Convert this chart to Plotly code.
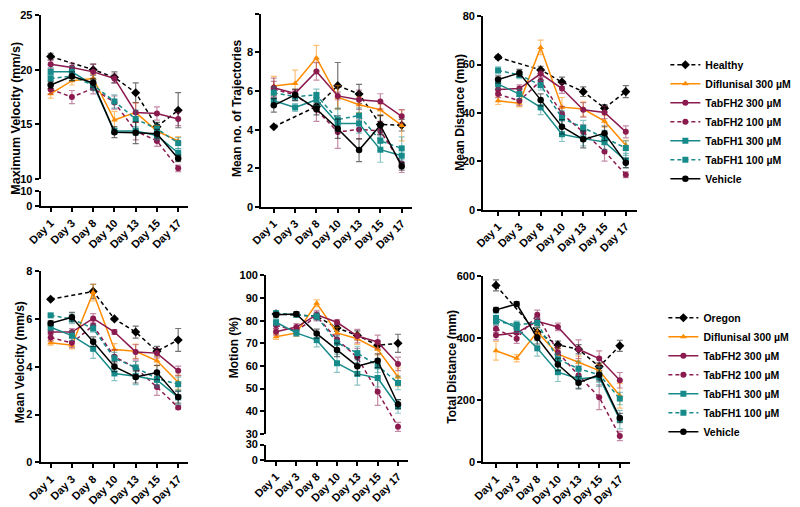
import plotly.graph_objects as go

# the page body keeps its default 8px margin: the figure is drawn 792x499 and
# every position below is given in the 800x507 reference frame, then scaled
FW, FH = 792, 499
RW, RH = 800, 507
FONT = "Liberation Sans, Arial, sans-serif"

days = ["Day 1", "Day 3", "Day 8", "Day 10", "Day 13", "Day 15", "Day 17"]
groups_top = ["Healthy", "Diflunisal 300 µM", "TabFH2 300 µM", "TabFH2 100 µM",
              "TabFH1 300 µM", "TabFH1 100 µM", "Vehicle"]
groups_bottom = ["Oregon", "Diflunisal 300 µM", "TabFH2 300 µM", "TabFH2 100 µM",
                 "TabFH1 300 µM", "TabFH1 100 µM", "Vehicle"]

# rows follow the group order above
maxvel = [
    [21.2, None, 20.0, 19.3, 17.9, 14.8, 16.3],
    [17.8, 19.0, 19.2, 15.4, 16.1, 14.4, 13.5],
    [20.5, 20.2, 19.8, 19.2, 16.1, 16.0, 15.5],
    [18.2, 17.5, 18.3, 17.0, 14.4, 13.5, 11.0],
    [19.8, 19.8, 18.6, 14.4, 14.4, 14.0, 12.4],
    [19.2, 19.4, 18.6, 17.1, 15.5, 14.6, 13.3],
    [18.6, 19.4, 18.8, 14.3, 14.25, 14.15, 11.9],
]
maxvel_err = [
    [0.3, 0, 0.5, 0.5, 0.9, 0.4, 1.6],
    [0.4, 0.4, 0.4, 0.8, 0.9, 0.5, 0.4],
    [0.4, 0.4, 0.7, 0.4, 0.9, 0.6, 0.6],
    [0.4, 0.6, 0.5, 0.6, 0.8, 0.5, 0.3],
    [0.4, 0.5, 0.5, 0.3, 0.4, 0.4, 0.4],
    [0.3, 0.4, 0.4, 0.6, 0.8, 0.4, 0.5],
    [0.3, 0.4, 0.4, 0.5, 1.0, 0.4, 0.3],
]

traj = [
    [4.15, None, 5.2, 6.28, 5.85, 4.27, 4.23],
    [6.26, 6.39, 7.72, 5.68, 5.29, 5.03, 4.22],
    [6.17, 5.88, 7.02, 5.75, 5.55, 5.46, 4.69],
    [6.1, 5.8, 5.03, 3.88, 4.01, 3.93, 2.23],
    [5.5, 5.15, 5.55, 4.32, 4.32, 2.96, 2.65],
    [5.92, 5.71, 5.8, 4.52, 4.73, 3.42, 3.03],
    [5.26, 5.8, 5.07, 4.05, 2.94, 4.23, 2.1],
]
traj_err = [
    [0.05, 0, 0.1, 1.2, 0.5, 0.5, 0.3],
    [0.5, 0.7, 0.65, 0.6, 0.4, 0.3, 0.8],
    [0.5, 0.2, 0.45, 0.2, 0.5, 0.4, 0.35],
    [0.4, 0.2, 0.6, 0.85, 0.5, 0.5, 0.45],
    [0.3, 0.2, 0.3, 0.4, 0.5, 0.65, 0.4],
    [0.3, 0.2, 0.3, 0.6, 0.4, 0.5, 0.6],
    [0.35, 0.3, 0.3, 0.5, 0.6, 0.5, 0.2],
]

dist = [
    [63.0, None, 57.8, 52.8, 48.8, 42.0, 48.8],
    [45.0, 44.0, 67.1, 42.4, 41.6, 36.6, 26.7],
    [49.7, 50.1, 56.2, 50.1, 41.3, 40.2, 32.2],
    [47.8, 45.0, 53.3, 39.7, 32.1, 24.1, 14.5],
    [51.9, 47.8, 42.3, 31.2, 29.4, 28.0, 20.3],
    [57.6, 55.7, 51.5, 37.9, 33.9, 29.8, 25.5],
    [53.8, 56.5, 45.4, 34.3, 29.1, 31.6, 19.4],
]
dist_err = [
    [0.8, 0, 1.5, 2.0, 2.0, 1.5, 2.5],
    [1.5, 1.5, 3.0, 4.0, 3.0, 2.5, 2.0],
    [1.5, 1.5, 1.5, 2.0, 3.0, 2.5, 2.5],
    [1.5, 2.0, 2.5, 3.0, 3.0, 4.0, 1.2],
    [2.0, 2.0, 3.0, 3.0, 3.0, 3.0, 3.0],
    [1.5, 1.5, 2.0, 3.0, 3.0, 3.0, 3.0],
    [1.5, 1.5, 2.5, 3.0, 3.5, 3.0, 2.0],
]

meanvel = [
    [6.82, None, 7.15, 6.0, 5.45, 4.65, 5.12],
    [5.0, 4.9, 7.1, 4.72, 4.65, 4.25, 3.35],
    [5.45, 5.45, 6.02, 5.45, 4.62, 4.57, 3.83],
    [5.22, 5.0, 5.72, 4.42, 3.95, 3.15, 2.3],
    [5.65, 5.3, 4.75, 3.72, 3.6, 3.45, 2.72],
    [6.15, 6.0, 5.6, 4.35, 3.97, 3.5, 3.27],
    [5.82, 6.07, 5.05, 4.0, 3.57, 3.76, 2.73],
]
meanvel_err = [
    [0.05, 0, 0.3, 0.05, 0.25, 0.2, 0.48],
    [0.1, 0.15, 0.35, 0.25, 0.3, 0.2, 0.3],
    [0.1, 0.15, 0.2, 0.1, 0.3, 0.2, 0.2],
    [0.15, 0.2, 0.2, 0.3, 0.3, 0.35, 0.08],
    [0.15, 0.2, 0.4, 0.3, 0.35, 0.3, 0.3],
    [0.05, 0.2, 0.15, 0.25, 0.25, 0.25, 0.3],
    [0.1, 0.2, 0.2, 0.2, 0.25, 0.3, 0.25],
]

motion = [
    [83.0, None, 82.0, 76.8, 73.5, 69.1, 70.0],
    [72.9, 74.6, 87.7, 74.6, 72.0, 67.4, 55.1],
    [75.1, 77.2, 82.6, 79.3, 73.2, 70.6, 60.9],
    [78.0, 75.5, 81.9, 71.7, 63.8, 48.6, 33.1],
    [79.3, 74.6, 71.4, 61.2, 56.5, 54.7, 42.1],
    [83.3, 82.6, 81.9, 70.3, 65.7, 60.1, 52.5],
    [82.6, 83.0, 74.3, 67.1, 59.9, 62.3, 43.1],
]
motion_err = [
    [1.0, 0, 1.0, 1.5, 2.0, 2.0, 4.0],
    [1.2, 1.5, 1.5, 2.5, 2.5, 2.5, 4.0],
    [1.5, 1.5, 2.0, 1.2, 3.0, 3.0, 3.0],
    [1.5, 1.5, 2.0, 2.0, 4.0, 6.0, 2.0],
    [1.5, 1.5, 3.0, 4.0, 5.0, 4.0, 3.0],
    [1.0, 1.0, 1.5, 3.0, 3.0, 3.0, 3.0],
    [1.0, 1.0, 2.0, 3.0, 4.0, 3.0, 2.0],
]

total = [
    [571, None, 420, 379, 365, 309, 376],
    [360, 336, 421, 349, 323, 296, 215],
    [410, 418, 455, 437, 365, 335, 265],
    [431, 399, 476, 355, 281, 210, 85],
    [466, 434, 368, 291, 270, 275, 138],
    [455, 444, 450, 333, 302, 283, 206],
    [492, 511, 402, 316, 257, 283, 143],
]
total_err = [
    [18, 0, 15, 12, 15, 12, 18],
    [30, 12, 20, 20, 20, 20, 40],
    [15, 15, 15, 12, 30, 25, 25],
    [12, 15, 15, 20, 30, 40, 15],
    [15, 15, 25, 30, 30, 30, 30],
    [12, 12, 15, 20, 25, 25, 20],
    [8, 8, 20, 20, 20, 20, 15],
]

# styles
BLACK, ORANGE, MAROON, TEAL = "#000000", "#FF8C00", "#8B1A4F", "#178A8A"
colors = [BLACK, ORANGE, MAROON, MAROON, TEAL, TEAL, BLACK]
err_colors = ["rgba(0,0,0,0.55)", "rgba(255,140,0,0.55)", "rgba(139,26,79,0.5)",
              "rgba(139,26,79,0.5)", "rgba(23,138,138,0.5)", "rgba(23,138,138,0.5)",
              "rgba(0,0,0,0.55)"]
dashes = ["4px,3px", "solid", "solid", "4px,3px", "solid", "4px,3px", "solid"]
symbols = ["diamond", "triangle-up", "circle", "circle", "square", "square", "circle"]
msizes = [7, 6, 6, 6, 6, 6, 6.5]


def fx(px):
    return px / RW


def fy(py):
    return min(1.0, 1 - py / RH)


fig = go.Figure()

panels = [
    (maxvel, maxvel_err, "x", "y", "legend", groups_top),
    (traj, traj_err, "x2", "y3", None, groups_top),
    (dist, dist_err, "x3", "y4", None, groups_top),
    (meanvel, meanvel_err, "x4", "y5", "legend2", groups_bottom),
    (motion, motion_err, "x5", "y6", None, groups_bottom),
    (total, total_err, "x6", "y8", None, groups_bottom),
]
for mean, err, xa, ya, leg, names in panels:
    for i, name in enumerate(names):
        fig.add_trace(go.Scatter(
            x=days, y=mean[i], name=name, mode="lines+markers",
            xaxis=xa, yaxis=ya, connectgaps=True, cliponaxis=False,
            line=dict(color=colors[i], width=1.5, dash=dashes[i]),
            marker=dict(symbol=symbols[i], size=msizes[i], color=colors[i]),
            error_y=dict(type="data", array=err[i], color=err_colors[i],
                         thickness=1.2, width=3),
            showlegend=leg is not None, legend=leg or "legend",
        ))

# empty traces so the lower halves of the broken axes get their own subplot
fig.add_trace(go.Scatter(x=[], y=[], xaxis="x", yaxis="y2", showlegend=False))
fig.add_trace(go.Scatter(x=[], y=[], xaxis="x5", yaxis="y7", showlegend=False))

tick_font = dict(family=FONT, size=11, color="black", weight="bold")


def x_axis(left, right, rng, anchor):
    return dict(domain=[fx(left), fx(right)], range=rng, anchor=anchor,
                type="category", showline=True, linewidth=2, linecolor="black",
                ticks="outside", ticklen=4, tickwidth=1.5, tickcolor="black",
                tickangle=-45, tickfont=tick_font, showgrid=False,
                zeroline=False, fixedrange=True)


def y_axis(bottom, top, rng, tickvals, anchor):
    return dict(domain=[fy(bottom), fy(top)], range=rng, anchor=anchor,
                tickvals=tickvals, showline=True, linewidth=2, linecolor="black",
                ticks="outside", ticklen=4, tickwidth=1.5, tickcolor="black",
                tickfont=tick_font, showgrid=False, zeroline=False,
                fixedrange=True)


fig.update_layout(
    xaxis=x_axis(33, 182, [-0.47, 6.47], "y2"),
    yaxis=y_axis(174, 7, [10, 25], [10, 15, 20, 25], "x"),
    yaxis2=y_axis(201.5, 186, [0, 10], [0, 10], "x"),
    xaxis2=x_axis(256, 408, [-0.58, 6.48], "y3"),
    yaxis3=y_axis(202, 6, [0, 10], [0, 2, 4, 6, 8, 10], "x2"),
    xaxis3=x_axis(480, 635, [-0.7, 6.51], "y4"),
    yaxis4=y_axis(205, 8.3, [0, 80], [0, 20, 40, 60, 80], "x3"),
    xaxis4=x_axis(33, 182, [-0.47, 6.47], "y5"),
    yaxis5=y_axis(461.7, 267.3, [0, 8], [0, 2, 4, 6, 8], "x4"),
    xaxis5=x_axis(260.7, 404, [-0.49, 6.49], "y7"),
    yaxis6=y_axis(432.7, 271.7, [30, 100], [30, 40, 50, 60, 70, 80, 90, 100], "x5"),
    yaxis7=y_axis(459, 443.5, [0, 30], [0, 30], "x5"),
    xaxis6=x_axis(480, 628, [-0.62, 6.48], "y8"),
    yaxis8=y_axis(461.7, 272.7, [0, 600], [0, 200, 400, 600], "x6"),
)

titles = [
    ("Maximum Velocity (mm/s)", 8.5, 112, 12.5),
    ("Mean no. of Trajectories", 232, 102, 12),
    ("Mean Distance (mm)", 457, 106, 12),
    ("Mean Velocity (mm/s)", 12, 360, 12),
    ("Motion (%)", 228, 345, 12),
    ("Total Distance (mm)", 449, 365, 12),
]
for text, tx, ty, size in titles:
    fig.add_annotation(text=text, x=fx(tx), y=fy(ty), xref="paper", yref="paper",
                       textangle=-90, showarrow=False, xanchor="center", yanchor="middle",
                       font=dict(family=FONT, size=size, color="black", weight="bold"))

legend_font = dict(family=FONT, size=10.5, color="black", weight="bold")
fig.update_layout(
    width=FW, height=FH,
    margin=dict(l=0, r=0, t=0, b=0, autoexpand=False),
    paper_bgcolor="white", plot_bgcolor="white",
    font=dict(family=FONT, color="black"),
    legend=dict(x=fx(664), y=fy(43), xanchor="left", yanchor="top",
                font=legend_font, bgcolor="rgba(0,0,0,0)", tracegroupgap=0,
                itemwidth=30),
    legend2=dict(x=fx(662), y=fy(300), xanchor="left", yanchor="top",
                 font=legend_font, bgcolor="rgba(0,0,0,0)", tracegroupgap=0,
                 itemwidth=30),
)

fig.write_html("out.html")
